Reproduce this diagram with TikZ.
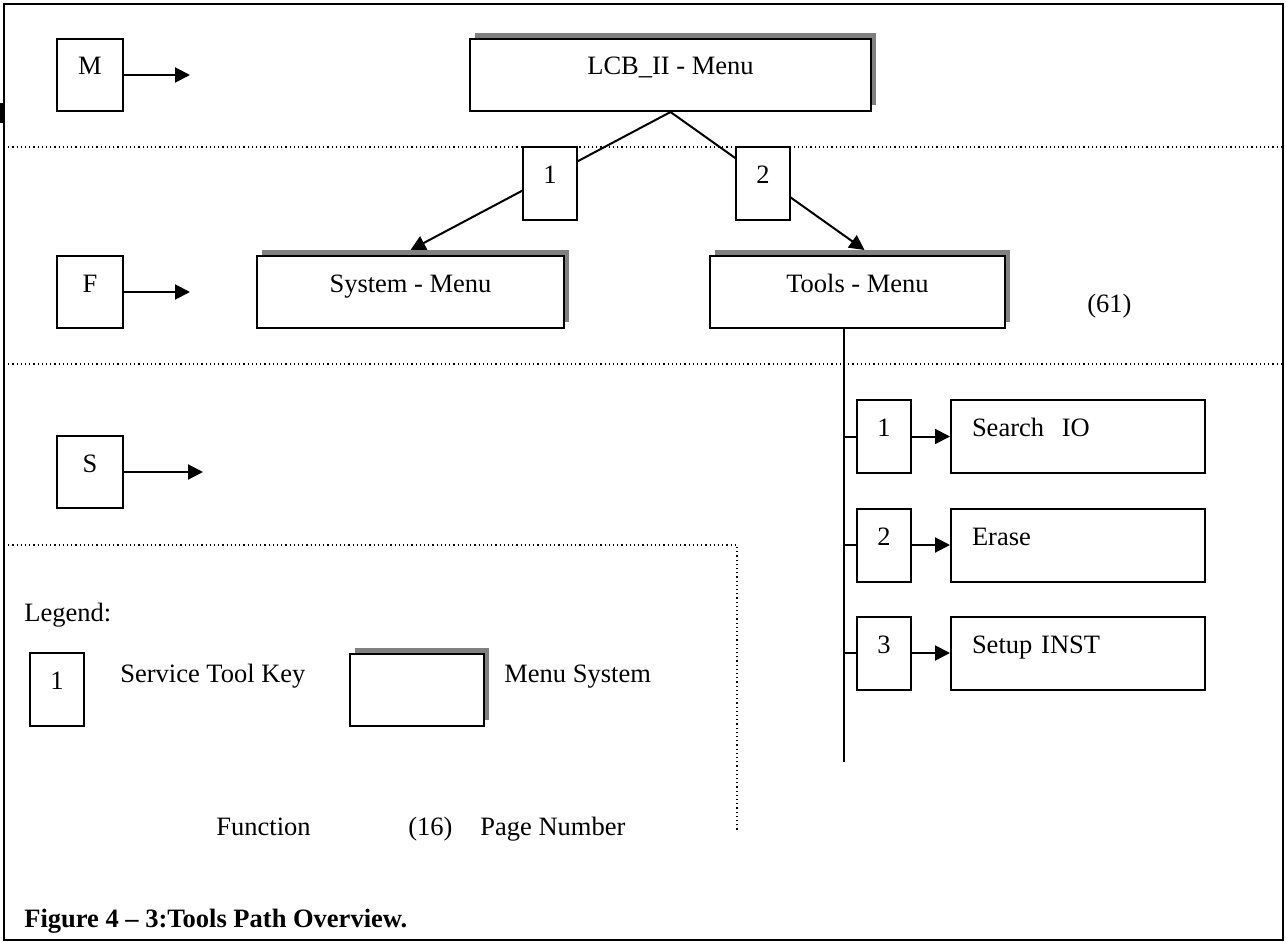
\documentclass[tikz,border=0pt]{standalone}
\usepackage{fontspec}
\setmainfont{Liberation Serif}
\usetikzlibrary{arrows.meta,shadows}
\tikzset{
  keybox/.style={draw, fill=white, line width=1pt, inner sep=0pt,
    minimum width=27pt, minimum height=36.5pt, text height=9pt, text depth=9pt},
  levelbox/.style={keybox, minimum width=33pt, minimum height=36pt},
  menubox/.style={keybox, minimum height=36pt,
    general shadow={fill=black!50, shadow xshift=2.6pt, shadow yshift=2.9pt}},
  itembox/.style={keybox, text width=106pt, align=left, inner xsep=10.5pt},
  lbl/.style={inner sep=0pt, anchor=base west},
  sep/.style={line width=0.6pt, dash pattern=on 0.6pt off 1.5pt},
  tip/.style={-{Triangle[length=7.5pt,width=7.5pt]}, line width=1pt},
}
\begin{document}
\begin{tikzpicture}[x=0.5pt, y=-0.5pt, font=\fontsize{13.25}{16}\selectfont]
      \useasboundingbox (0,0) rectangle (1286,942);
      \draw[line width=1pt] (4,4) rectangle (1283,940);
      \draw[line width=1.5pt] (1.5,103) -- (1.5,123);
      % level separators
      \draw[sep] (4,147) -- (1283,147);
      \draw[sep] (4,364) -- (1283,364);
      \draw[sep] (4,545) -- (737,545) -- (737,832);
      % levels
      \draw
        (90,75) node[levelbox] (M){M}
        (90,292) node[levelbox] (F){F}
        (90,472) node[levelbox] (S){S};
      \coordinate (Mend) at (190,75);
      \coordinate (Fend) at (190,292);
      \coordinate (Send) at (203,472);
      \begin{scope}[tip]
        \draw (M) to (Mend);
        \draw (F) to (Fend);
        \draw (S) to (Send);
      \end{scope}
      % menus
      \draw
        (670.5,75) node[menubox, minimum width=200.5pt] (lcb){LCB\_II - Menu}
        (410.5,292) node[menubox, minimum width=153.5pt] (system){System - Menu}
        (857.5,292) node[menubox, minimum width=147.5pt] (tools){Tools - Menu};
      \begin{scope}[tip]
        \draw (lcb.south) to ([yshift=2.5pt]system.north);
        \draw (lcb.south) to ([xshift=3.5pt,yshift=2.5pt]tools.north);
      \end{scope}
      \draw
        (550,183.5) node[keybox] (k1){1}
        (763,183.5) node[keybox] (k2){2};
      \node[lbl] (p61) at (1087,312) {(61)};
      % tools items
      \coordinate (trunk) at (844,762);
      \draw[line width=1pt] (tools.south -| trunk) -- (trunk);
      \draw
        (884,436.5) node[keybox] (t1){1}
        (1078,436.5) node[itembox] (search){Search~ IO}
        (884,545) node[keybox] (t2){2}
        (1078,545) node[itembox] (erase){Erase}
        (884,653) node[keybox] (t3){3}
        (1078,653) node[itembox] (setup){Setup INST};
      \begin{scope}[line width=1pt]
        \draw (trunk |- t1) to (t1.west);
        \draw (trunk |- t2) to (t2.west);
        \draw (trunk |- t3) to (t3.west);
      \end{scope}
      \begin{scope}[tip]
        \draw (t1) to (search);
        \draw (t2) to (erase);
        \draw (t3) to (setup);
      \end{scope}
      % legend
      \node[lbl] (legend) at (24,621) {Legend:};
      \draw
        (57,689.5) node[keybox] (lkey){1}
        (417,689.5) node[menubox, minimum width=67pt] (lmenu){};
      \node[lbl] (lkeytxt) at (120,682) {Service Tool Key};
      \node[lbl] (lmenutxt) at (504,682) {Menu System};
      \node[lbl] (lfunc) at (216,835) {Function};
      \node[lbl] (lpage) at (408,835) {(16)};
      \node[lbl] (lpagetxt) at (480,835) {Page Number};
      \node[lbl, font=\fontsize{13.25}{16}\selectfont\bfseries] (caption) at (24,927)
        {Figure 4 – 3:Tools Path Overview.};
    \end{tikzpicture}
\end{document}
